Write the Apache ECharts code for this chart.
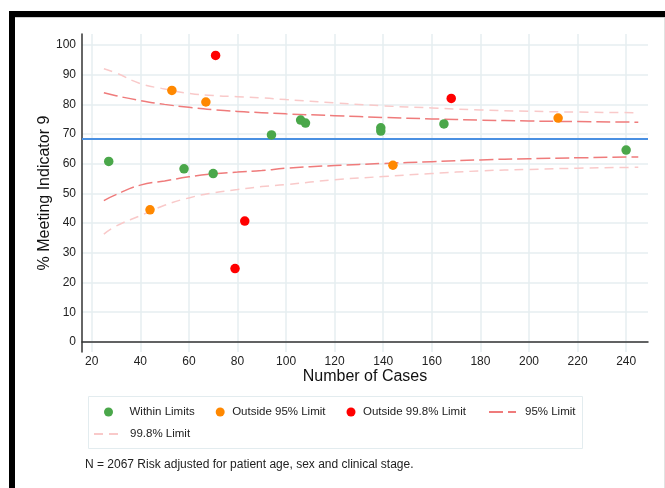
<!DOCTYPE html>
<html><head><meta charset="utf-8">
<script src="https://cdn.jsdelivr.net/npm/echarts@6/dist/echarts.min.js"></script>
<style>html,body{margin:0;padding:0;background:#fff}#c{width:665px;height:488px}</style>
</head><body><div id="c"></div>
<script>
// Data
const withinX = [27, 58, 70, 94, 106, 108, 139, 139, 165, 240];
const withinY = [60.8, 58.3, 56.7, 69.7, 74.7, 73.7, 72.1, 71.0, 73.4, 64.6];
const out95X = [44, 53, 67, 144, 212];
const out95Y = [44.5, 84.7, 80.8, 59.5, 75.4];
const out998X = [71, 79, 83, 168];
const out998Y = [96.5, 24.7, 40.7, 82.0];

const limitX   = [25, 30, 40, 50, 60, 70, 80, 90, 100, 120, 140, 160, 180, 200, 220, 245];
const upper998 = [92.0, 90.6, 87.0, 85.2, 83.7, 83.0, 82.6, 82.2, 81.6, 80.5, 79.5, 78.8, 78.1, 77.7, 77.4, 77.2];
const upper95  = [83.9, 82.9, 81.3, 80.0, 79.0, 78.2, 77.6, 77.2, 76.8, 76.2, 75.6, 75.1, 74.7, 74.4, 74.2, 74.0];
const lower95  = [47.6, 49.6, 52.8, 54.2, 55.6, 56.6, 57.2, 57.7, 58.5, 59.4, 60.1, 60.7, 61.3, 61.7, 62.0, 62.3];
const lower998 = [36.3, 39.0, 42.5, 46.0, 48.5, 50.2, 51.3, 52.3, 53.0, 54.6, 55.7, 56.7, 57.6, 58.1, 58.5, 58.8];

const averageRate = 68.3;

const xTickLabels = [20, 40, 60, 80, 100, 120, 140, 160, 180, 200, 220, 240];
const yTickLabels = [0, 10, 20, 30, 40, 50, 60, 70, 80, 90, 100];

const zip = (xs, ys) => xs.map((x, i) => [x, ys[i]]);

const chart = echarts.init(document.getElementById('c'), null, {renderer: 'canvas'});
const font = '"Liberation Sans", Arial, sans-serif';
const gridColor = '#e6eef1';

function limitSeries(name, ys, color, dash) {
  return {
    name, type: 'line', data: zip(limitX, ys), smooth: true,
    symbol: 'none', showSymbol: false, silent: true, z: 2,
    lineStyle: {color, width: 1.5, type: dash},
    itemStyle: {color, opacity: 0}
  };
}
function dotSeries(name, xs, ys, color) {
  return {
    name, type: 'scatter', data: zip(xs, ys), symbol: 'circle', symbolSize: 9.5,
    itemStyle: {color, opacity: 1}, z: 5
  };
}

const legendText = {fontSize: 11.5, color: '#222', lineHeight: 14, fontFamily: font};

chart.setOption({
  animation: false,
  backgroundColor: '#fff',
  textStyle: {fontFamily: font},
  grid: {left: 82, right: 17, top: 34, bottom: 136, containLabel: false},
  xAxis: {
    type: 'value', min: 16, max: 249,
    name: 'Number of Cases', nameLocation: 'middle', nameGap: 17, nameMoveOverlap: false,
    nameTextStyle: {fontSize: 16, color: '#111', fontFamily: font},
    axisLine: {show: true, lineStyle: {color: '#333', width: 1.5}},
    axisTick: {show: false, customValues: xTickLabels},
    axisLabel: {customValues: xTickLabels, fontSize: 12, color: '#222', margin: 4, fontFamily: font},
    splitLine: {show: true, lineStyle: {color: gridColor, width: 1.5}}
  },
  yAxis: {
    type: 'value', min: -3.4, max: 103.7,
    name: '% Meeting Indicator 9', nameLocation: 'middle', nameGap: 29, nameMoveOverlap: false,
    nameTextStyle: {fontSize: 16, color: '#111', fontFamily: font},
    axisLine: {show: true, lineStyle: {color: '#333', width: 1.5}},
    axisTick: {show: false, customValues: yTickLabels},
    axisLabel: {customValues: yTickLabels, fontSize: 12, color: '#222', margin: 6, fontFamily: font},
    splitLine: {show: true, lineStyle: {color: gridColor, width: 1.5}}
  },
  legend: [
    {
      left: 104, top: 405, padding: 0, itemWidth: 10, itemHeight: 9, itemGap: 21,
      textStyle: Object.assign({padding: [0, 0, 0, 2]}, legendText),
      data: [
        {name: 'Within Limits', textStyle: {padding: [0, 0, 0, 11]}},
        {name: 'Outside 95% Limit'},
        {name: 'Outside 99.8% Limit'}
      ]
    },
    {
      left: 488, top: 405, padding: 0, itemWidth: 27, itemHeight: 9,
      textStyle: Object.assign({padding: [0, 0, 0, 4]}, legendText),
      data: [{name: '95% Limit', itemStyle: {opacity: 0}}]
    },
    {
      left: 93, top: 427, padding: 0, itemWidth: 27, itemHeight: 9,
      textStyle: Object.assign({padding: [0, 0, 0, 4]}, legendText),
      data: [{name: '99.8% Limit', itemStyle: {opacity: 0}}]
    }
  ],
  series: [
    limitSeries('99.8% Limit', upper998, '#f9c9c9', [9, 6]),
    limitSeries('99.8% Limit', lower998, '#f9c9c9', [9, 6]),
    limitSeries('95% Limit', upper95, '#ef7b7b', [14, 5]),
    limitSeries('95% Limit', lower95, '#ef7b7b', [14, 5]),
    {
      name: 'Average', type: 'line', data: [], silent: true,
      markLine: {
        silent: true, symbol: 'none', label: {show: false},
        lineStyle: {color: '#4a90e2', width: 2, type: 'solid'},
        data: [{yAxis: averageRate}]
      }, z: 3
    },
    dotSeries('Within Limits', withinX, withinY, '#4aa74a'),
    dotSeries('Outside 95% Limit', out95X, out95Y, '#ff8800'),
    dotSeries('Outside 99.8% Limit', out998X, out998Y, '#ff0000')
  ],
  graphic: [
    {type: 'rect', shape: {x: 88.5, y: 396.5, width: 494, height: 52}, style: {fill: 'none', stroke: '#e3ecef', lineWidth: 1}, z: 0},
    {type: 'rect', shape: {x: 9, y: 11, width: 656, height: 6}, style: {fill: '#000'}, z: 100},
    {type: 'rect', shape: {x: 9, y: 11, width: 6, height: 477}, style: {fill: '#000'}, z: 100},
    {type: 'rect', shape: {x: 15, y: 17, width: 650, height: 1}, style: {fill: '#cfcfcf'}, z: 100},
    {type: 'rect', shape: {x: 664, y: 18, width: 1, height: 470}, style: {fill: '#e2e2e2'}, z: 100},
    {type: 'text', left: 85, top: 459, style: {text: 'N = 2067 Risk adjusted for patient age, sex and clinical stage.', fontSize: 12, fill: '#222', fontFamily: font}, z: 100}
  ]
});
</script></body></html>
